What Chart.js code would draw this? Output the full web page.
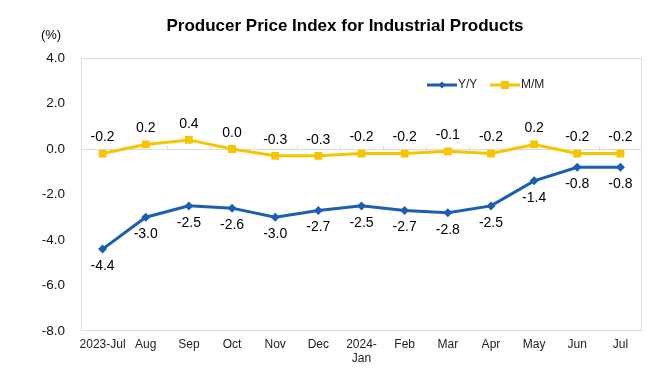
<!DOCTYPE html>
<html>
<head>
<meta charset="utf-8">
<script src="https://cdn.jsdelivr.net/npm/chart.js@4"></script>
<style>
  html, body { margin: 0; padding: 0; background: #fff; }
  #wrap { width: 660px; height: 384px; }
</style>
</head>
<body>
<div id="wrap"><canvas id="chartPpi" width="660" height="384"></canvas></div>
<script>
const months = ['2023-Jul', 'Aug', 'Sep', 'Oct', 'Nov', 'Dec', ['2024-', 'Jan'], 'Feb', 'Mar', 'Apr', 'May', 'Jun', 'Jul'];
const yoy = [-4.4, -3.0, -2.5, -2.6, -3.0, -2.7, -2.5, -2.7, -2.8, -2.5, -1.4, -0.8, -0.8];
const mom = [-0.2, 0.2, 0.4, 0.0, -0.3, -0.3, -0.2, -0.2, -0.1, -0.2, 0.2, -0.2, -0.2];
const yTicks = [4, 2, 0, -2, -4, -6, -8];

const blue = '#1b5fb1';
const yellow = '#f7c500';
const font = "'Liberation Sans', Arial, sans-serif";

const extras = {
  id: 'extras',
  beforeDatasetsDraw(chart) {
    const ctx = chart.ctx;
    const a = chart.chartArea;
    const x = chart.scales.x;
    const y = chart.scales.y;
    ctx.save();
    // plot border
    ctx.strokeStyle = '#dedede';
    ctx.lineWidth = 1;
    ctx.strokeRect(a.left + 0.5, a.top + 0.5, a.right - a.left - 1, a.bottom - a.top - 1);
    // zero line and category ticks
    const y0 = Math.round(y.getPixelForValue(0)) + 0.5;
    ctx.beginPath();
    ctx.moveTo(a.left, y0);
    ctx.lineTo(a.right, y0);
    for (let i = 0; i < months.length - 1; i++) {
      const mx = Math.round((x.getPixelForValue(i) + x.getPixelForValue(i + 1)) / 2) + 0.5;
      ctx.moveTo(mx, y0);
      ctx.lineTo(mx, y0 - 4);
    }
    ctx.stroke();
    ctx.restore();
  },
  afterDraw(chart) {
    const ctx = chart.ctx;
    const x = chart.scales.x;
    const y = chart.scales.y;
    ctx.save();
    // title
    ctx.fillStyle = '#000';
    ctx.textAlign = 'center';
    ctx.textBaseline = 'middle';
    ctx.font = 'bold 17px ' + font;
    ctx.fillText('Producer Price Index for Industrial Products', 345, 26);
    // unit
    ctx.font = '13px ' + font;
    ctx.fillText('(%)', 51, 35);
    // value labels
    ctx.font = '14px ' + font;
    mom.forEach((v, i) => {
      ctx.fillText(v.toFixed(1), x.getPixelForValue(i), y.getPixelForValue(v) - 16);
    });
    yoy.forEach((v, i) => {
      ctx.fillText(v.toFixed(1), x.getPixelForValue(i), y.getPixelForValue(v) + 17);
    });
    // legend
    const ly = 85;
    const items = [
      { label: 'Y/Y', color: blue, x0: 427, style: 'diamond' },
      { label: 'M/M', color: yellow, x0: 490, style: 'square' }
    ];
    ctx.font = '12px ' + font;
    ctx.textAlign = 'left';
    items.forEach(it => {
      ctx.strokeStyle = it.color;
      ctx.fillStyle = it.color;
      ctx.lineWidth = 3;
      ctx.beginPath();
      ctx.moveTo(it.x0, ly);
      ctx.lineTo(it.x0 + 30, ly);
      ctx.stroke();
      const cx = it.x0 + 15;
      if (it.style === 'square') {
        ctx.fillRect(cx - 4, ly - 4, 8, 8);
      } else {
        ctx.beginPath();
        ctx.moveTo(cx, ly - 3.5);
        ctx.lineTo(cx + 3.5, ly);
        ctx.lineTo(cx, ly + 3.5);
        ctx.lineTo(cx - 3.5, ly);
        ctx.closePath();
        ctx.fill();
      }
      ctx.fillStyle = '#222';
      ctx.fillText(it.label, it.x0 + 31, ly);
    });
    ctx.restore();
  }
};

new Chart(document.getElementById('chartPpi'), {
  type: 'line',
  data: {
    labels: months,
    datasets: [
      {
        label: 'Y/Y',
        data: yoy,
        borderColor: blue,
        backgroundColor: blue,
        borderWidth: 3,
        pointStyle: 'rectRot',
        pointRadius: 4.5,
        pointBorderWidth: 0,
        tension: 0
      },
      {
        label: 'M/M',
        data: mom,
        borderColor: yellow,
        backgroundColor: yellow,
        borderWidth: 3,
        pointStyle: 'rect',
        pointRadius: 5.5,
        pointBorderWidth: 0,
        tension: 0
      }
    ]
  },
  options: {
    responsive: false,
    animation: false,
    layout: { padding: { top: 58, right: 18, left: 0, bottom: 0 } },
    plugins: {
      legend: { display: false },
      tooltip: { enabled: false }
    },
    scales: {
      x: {
        offset: true,
        grid: { display: false, drawTicks: false },
        border: { display: false },
        ticks: {
          color: '#222',
          font: { family: font, size: 12 },
          maxRotation: 0,
          autoSkip: false,
          padding: 6
        },
        afterFit(scale) { scale.height = 53; }
      },
      y: {
        min: -8,
        max: 4,
        afterBuildTicks(scale) { scale.ticks = yTicks.map(v => ({ value: v })); },
        grid: { display: false, drawTicks: false },
        border: { display: false },
        ticks: {
          color: '#111',
          font: { family: font, size: 13.5 },
          padding: 16,
          callback: v => v.toFixed(1)
        },
        afterFit(scale) { scale.width = 81; }
      }
    }
  },
  plugins: [extras]
});
</script>
</body>
</html>
